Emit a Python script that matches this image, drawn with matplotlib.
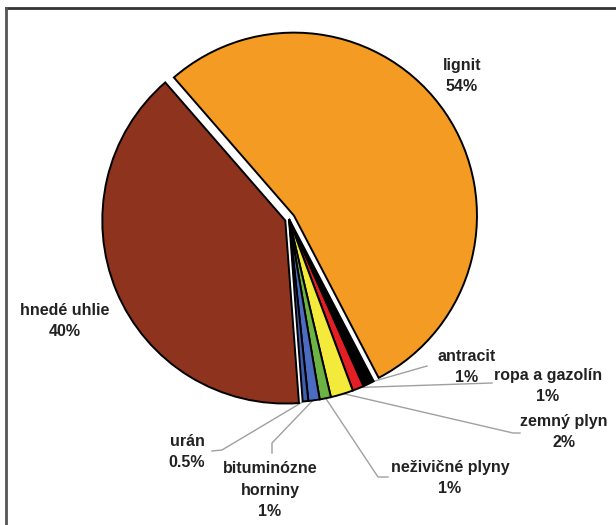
import numpy as np
import matplotlib.pyplot as plt

plt.rcParams['font.family'] = ['Liberation Sans', 'DejaVu Sans']

# slices, clockwise from the top-left boundary
labels = ['lignit', 'antracit', 'ropa a gazolín', 'zemný plyn', 'neživičné plyny',
          'bituminózne\nhorniny', 'urán', 'hnedé uhlie']
values = [54, 1, 1, 2, 1, 1, 0.5, 40]
colors = ['#F39B22', '#000000', '#E31E24', '#F3EA3B', '#6DB344', '#4B6CC0', '#3F5EAD', '#8E341E']

W, H = 616, 525
cx, cy, r = 289, H - 219, 183
# explode offsets in pixels (pie uses data units)
explode = [6, 0, 0, 0, 0, 0, 0, 4]

fig = plt.figure(figsize=(W / 100, H / 100), dpi=100)
ax = fig.add_axes([0, 0, 1, 1])

wedges, _ = ax.pie(values, colors=colors, explode=explode, startangle=131,
                   counterclock=False, center=(cx, cy), radius=r,
                   wedgeprops=dict(edgecolor='black', linewidth=1.4))
ax.set_xlim(0, W)
ax.set_ylim(0, H)
ax.set_aspect('equal')
ax.axis('off')

# label positions (pixels from top-left) and leader-line elbows
text_pos = {
    'lignit': (462, 76),
    'hnedé uhlie': (65, 321),
    'antracit': (467, 367),
    'ropa a gazolín': (548, 386),
    'zemný plyn': (564, 432),
    'neživičné plyny': (450, 478),
    'bituminózne\nhorniny': (270, 490),
    'urán': (187, 452),
}
leaders = {
    'antracit': [(427, 366)],
    'ropa a gazolín': [(492, 383)],
    'zemný plyn': [(513, 433), (520, 433)],
    'neživičné plyny': [(378, 477), (388, 477)],
    'bituminózne\nhorniny': [(272, 443), (272, 453)],
    'urán': [(222, 450), (212, 451)],
}

for w, lab, v in zip(wedges, labels, values):
    tx, ty = text_pos[lab]
    ax.text(tx, H - ty, f"{lab}\n{v:g}%", ha='center', va='center', fontsize=11.5,
            fontweight='bold', color='#222222', linespacing=1.55)
    if lab in leaders:
        ang = np.deg2rad((w.theta1 + w.theta2) / 2)
        x0 = w.center[0] + (r - 1) * np.cos(ang)
        y0 = w.center[1] + (r - 1) * np.sin(ang)
        pts = [(x0, y0)] + [(px, H - py) for px, py in leaders[lab]]
        xs, ys = zip(*pts)
        ax.plot(xs, ys, color='#A0A0A0', lw=1, zorder=0)

# picture frame (top and left edge)
ax.plot([6, W], [H - 8, H - 8], color='#333333', lw=2, clip_on=False)
ax.plot([6, 6], [H - 8, 0], color='#555555', lw=2, clip_on=False)

fig.savefig('out.png', dpi=100)
